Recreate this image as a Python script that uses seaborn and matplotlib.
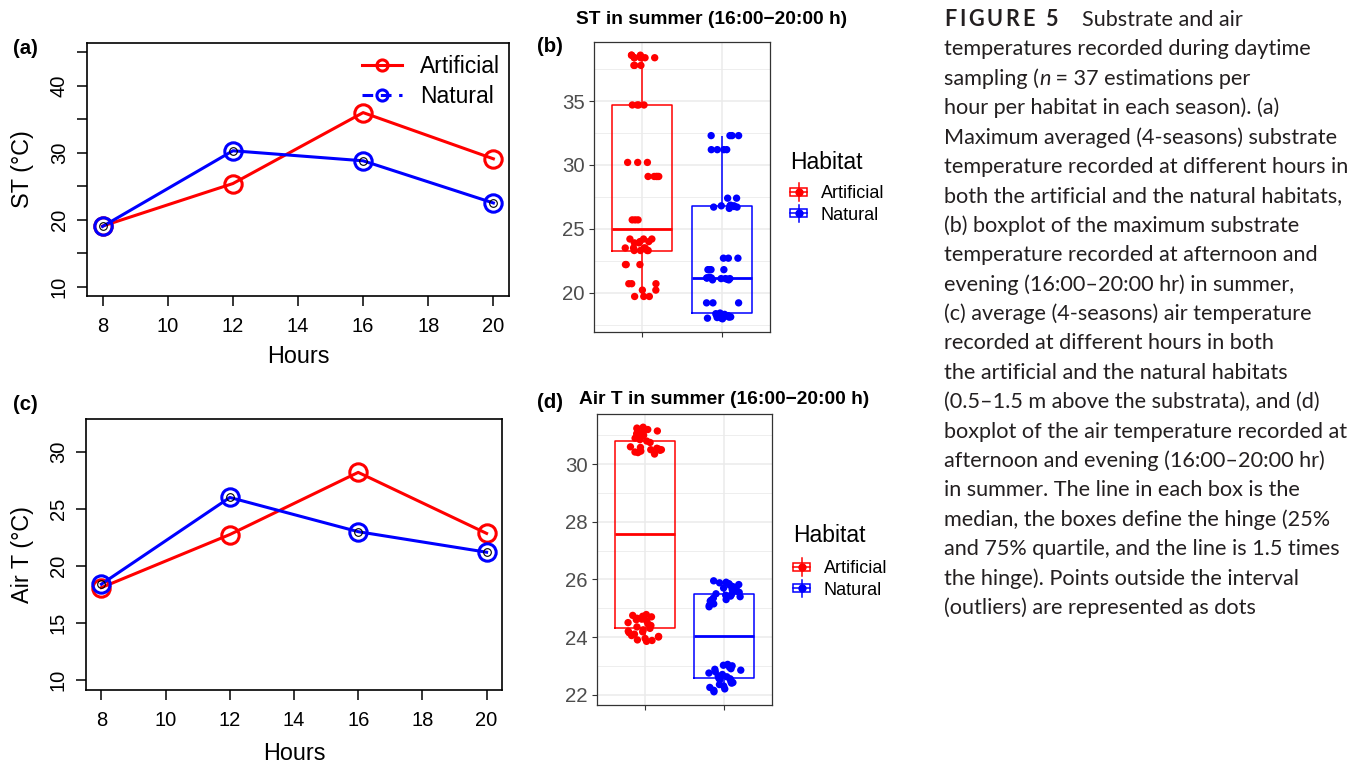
import numpy as np
import pandas as pd
import matplotlib
matplotlib.use("Agg")
import matplotlib.pyplot as plt
import seaborn as sns
from matplotlib.legend_handler import HandlerBase
from matplotlib.patches import Rectangle
from matplotlib.lines import Line2D
from matplotlib.ticker import AutoMinorLocator, NullLocator

# ---------------- data ----------------
hours = [8, 12, 16, 20]
st_artificial = [19.05, 25.4, 36.0, 29.1]
st_natural = [19.0, 30.3, 28.8, 22.5]
air_artificial = [18.1, 22.75, 28.2, 22.85]
air_natural = [18.4, 26.0, 23.0, 21.2]

habitats = ["Artificial", "Natural"]

st_summer_artificial = [19.7, 19.7, 19.7, 20.2, 20.2, 20.7, 20.7, 20.7, 22.2, 22.2, 22.2,
                        23.3, 23.3, 23.3, 23.3, 23.5, 23.5, 23.5, 23.5, 23.9, 23.9,
                        24.0, 24.0, 24.2, 24.2, 24.2,
                        25.7, 25.7, 25.7, 29.1, 29.1, 29.1, 29.1, 29.1, 30.2, 30.2, 30.2,
                        34.7, 34.7, 34.7, 34.7, 37.8, 37.8, 37.8,
                        38.4, 38.4, 38.4, 38.4, 38.4, 38.6, 38.6, 38.6]
st_summer_natural = [17.95, 18.0, 18.0, 18.05, 18.1, 18.1, 18.1, 18.15, 18.2, 18.2, 18.25,
                     18.3, 18.35, 18.4, 19.2, 19.2, 19.2,
                     21.0, 21.0, 21.05, 21.1, 21.1, 21.1, 21.15, 21.15, 21.15, 21.2,
                     21.8, 21.8, 21.8, 21.8, 22.7, 22.7, 22.7,
                     26.6, 26.7, 26.7, 26.75, 26.8, 26.8, 26.8, 26.85, 27.4, 27.4,
                     31.2, 31.2, 31.2, 31.2, 32.3, 32.3, 32.3, 32.3]
air_summer_artificial = [23.85, 23.88, 23.9, 23.95, 24.0, 24.02, 24.05, 24.1, 24.15, 24.18,
                         24.2, 24.25, 24.3, 24.35, 24.4, 24.45, 24.5, 24.55, 24.6, 24.62,
                         24.65, 24.7, 24.72, 24.75, 24.78,
                         30.35, 30.4, 30.42, 30.45, 30.48, 30.5, 30.5, 30.52, 30.55, 30.58,
                         30.6, 30.75, 30.8, 30.85, 30.9, 30.95, 31.0, 31.05, 31.1, 31.12,
                         31.15, 31.2, 31.22, 31.25, 31.28]
air_summer_natural = [22.1, 22.15, 22.2, 22.25, 22.3, 22.35, 22.4, 22.42, 22.45, 22.5,
                      22.52, 22.55, 22.58, 22.62, 22.65, 22.7, 22.75, 22.8, 22.85, 22.88,
                      22.9, 22.95, 23.0, 23.02, 23.05,
                      25.05, 25.1, 25.15, 25.2, 25.25, 25.28, 25.3, 25.35, 25.4, 25.42,
                      25.45, 25.48, 25.5, 25.55, 25.6, 25.65, 25.7, 25.72, 25.75, 25.8,
                      25.82, 25.85, 25.88, 25.9, 25.95]

RED = "#FF0000"
BLUE = "#0000FF"
CAP = "#231F20"

plt.rcParams["font.family"] = ["Liberation Sans", "DejaVu Sans"]

W, H = 1364, 765
fig = plt.figure(figsize=(W / 100, H / 100), dpi=100)


def ax_px(l, t, r, b):
    return fig.add_axes([l / W, 1 - b / H, (r - l) / W, (b - t) / H])


axA = ax_px(87, 43, 509, 296)
axC = ax_px(86, 419, 502, 690)
axB = ax_px(594, 42, 770, 332)
axD = ax_px(597, 414, 772, 705)


# ---------------- base-R style line panels ----------------
def r_panel(ax, art, nat, ylim, yticks, ylabels, ylabel, hpx, xlab_off):
    sns.lineplot(x=hours, y=art, ax=ax, color=RED, lw=2.2, marker="o", markersize=12.5,
                 markerfacecolor="none", markeredgecolor=RED, markeredgewidth=2.2, zorder=3)
    sns.lineplot(x=hours, y=nat, ax=ax, color=BLUE, lw=2.2, marker="o", markersize=12.5,
                 markerfacecolor="none", markeredgecolor=BLUE, markeredgewidth=2.2, zorder=4)
    sns.lineplot(x=hours, y=nat, ax=ax, color="black", linestyle="", marker="o", markersize=5.5,
                 markerfacecolor="none", markeredgecolor="black", markeredgewidth=0.8, zorder=5)
    ax.set_xlim(7.52, 20.48)
    ax.set_ylim(*ylim)
    ax.set_xticks([8, 10, 12, 14, 16, 18, 20])
    ax.set_yticks(yticks)
    ax.set_yticklabels(ylabels)
    for s in ax.spines.values():
        s.set_linewidth(1.2)
        s.set_color("black")
    ax.tick_params(axis="both", length=7, width=1.1, labelsize=14.5, colors="black")
    ax.tick_params(axis="x", pad=8)
    ax.tick_params(axis="y", labelrotation=90, pad=6)
    for lab in ax.get_yticklabels():
        lab.set_va("center")
    ax.set_xlabel("Hours", fontsize=16.8)
    ax.set_ylabel(ylabel, fontsize=16.8)
    ax.xaxis.label.set_va("center")
    ax.yaxis.label.set_va("center")
    ax.xaxis.set_label_coords(0.5, -xlab_off / hpx)
    ax.yaxis.set_label_coords(-64 / 422, 0.5)
    ax.set_facecolor("white")


r_panel(axA, st_artificial, st_natural, (8.6, 46.4), [10, 15, 20, 25, 30, 35, 40, 45],
        ["10", "", "20", "", "30", "", "40", ""], "ST (°C)", 253, 61)
r_panel(axC, air_artificial, air_natural, (9.12, 32.88), [10, 15, 20, 25, 30],
        ["10", "15", "20", "25", "30"], "Air T (°C)", 271, 63)

legA = [Line2D([], [], color=RED, lw=2.2, marker="o", markersize=8, markerfacecolor="none",
               markeredgewidth=2.2),
        Line2D([], [], color=BLUE, lw=2.2, linestyle=(0, (3.5, 2.5)), marker="o", markersize=8,
               markerfacecolor="none", markeredgewidth=2.2)]
axA.legend(legA, habitats, loc="upper left", bbox_to_anchor=(362 / W, 1 - 55 / H),
           bbox_transform=fig.transFigure, frameon=False, fontsize=16.5, handlelength=1.75,
           handletextpad=0.8, borderpad=0, borderaxespad=0, labelspacing=0.3)

fig.text(13 / W, 1 - 48 / H, "(a)", fontsize=14.7, fontweight="bold", va="center", ha="left")
fig.text(13 / W, 1 - 405 / H, "(c)", fontsize=14.7, fontweight="bold", va="center", ha="left")


# ---------------- ggplot style box panels ----------------
class BoxKey(HandlerBase):
    def create_artists(self, legend, orig_handle, xdescent, ydescent, width, height,
                       fontsize, trans):
        c = orig_handle.get_color()
        x0, y0 = -xdescent, -ydescent
        w, h = width, height
        arts = [
            Rectangle((x0, y0 + 0.25 * h), w, 0.5 * h, facecolor="white", edgecolor=c,
                      lw=1.1, transform=trans),
            Line2D([x0, x0 + w], [y0 + 0.5 * h] * 2, color=c, lw=1.1, transform=trans),
            Line2D([x0 + w / 2] * 2, [y0 - 0.05 * h, y0 + 0.25 * h], color=c, lw=1.1,
                   transform=trans),
            Line2D([x0 + w / 2] * 2, [y0 + 0.75 * h, y0 + 1.05 * h], color=c, lw=1.1,
                   transform=trans),
            Line2D([x0 + w / 2], [y0 + 0.5 * h], marker="o", markersize=5, color=c,
                   linestyle="", transform=trans),
        ]
        return arts


def gg_panel(ax, art, nat, title, tag, title_x, title_y, tag_y, leg_x, leg_title_y, leg_y):
    df = pd.DataFrame({"Habitat": ["Artificial"] * len(art) + ["Natural"] * len(nat),
                       "value": list(art) + list(nat)})
    pal = {"Artificial": RED, "Natural": BLUE}
    sns.boxplot(data=df, x="Habitat", y="value", hue="Habitat", palette=pal, fill=False,
                width=0.75, linewidth=1.1, saturation=1, showcaps=False, showfliers=False,
                medianprops=dict(linewidth=2.0), legend=False, ax=ax, zorder=3)
    np.random.seed(3)
    sns.stripplot(data=df, x="Habitat", y="value", hue="Habitat", palette=pal, jitter=0.22,
                  size=5.3, linewidth=0, legend=False, ax=ax, zorder=4)
    lo, hi = min(df.value), max(df.value)
    rng = hi - lo
    ax.set_ylim(lo - 0.05 * rng, hi + 0.05 * rng)
    ax.set_xlim(-0.6, 1.6)
    ax.set_xlabel("")
    ax.set_ylabel("")
    ax.set_xticklabels([])
    ax.set_facecolor("white")
    ax.minorticks_on()
    ax.xaxis.set_minor_locator(NullLocator())
    ax.yaxis.set_minor_locator(AutoMinorLocator(2))
    ax.grid(True, which="major", color="#EBEBEB", lw=1.1, zorder=0)
    ax.grid(True, which="minor", axis="y", color="#EBEBEB", lw=0.6, zorder=0)
    ax.set_axisbelow(True)
    for s in ax.spines.values():
        s.set_linewidth(0.9)
        s.set_color("#333333")
    ax.tick_params(axis="both", which="major", length=3.5, width=0.8, color="#333333",
                   labelsize=14.7, labelcolor="#4D4D4D", pad=3)
    ax.tick_params(axis="y", which="minor", length=0)
    fig.text(title_x / W, 1 - title_y / H, title, fontsize=13.8, fontweight="bold",
             va="center", ha="left")
    fig.text(537 / W, 1 - tag_y / H, tag, fontsize=14.7, fontweight="bold",
             va="center", ha="left")
    fig.text(leg_x / W, 1 - leg_title_y / H, "Habitat", fontsize=16.5, va="center",
             ha="left")
    handles = [Line2D([], [], color=RED), Line2D([], [], color=BLUE)]
    ax.legend(handles, habitats, handler_map={Line2D: BoxKey()},
              fontsize=13, loc="upper left",
              bbox_to_anchor=(leg_x / W, 1 - leg_y / H), bbox_transform=fig.transFigure,
              frameon=False, handlelength=0.95, handleheight=1.0,
              handletextpad=0.75, labelspacing=0.17, borderpad=0, borderaxespad=0)


gg_panel(axB, st_summer_artificial, st_summer_natural, "ST in summer (16:00\u221220:00 h)",
         "(b)", 576, 19, 46, 790, 162.7, 184)
gg_panel(axD, air_summer_artificial, air_summer_natural,
         "Air T in summer (16:00\u221220:00 h)", "(d)", 579, 400, 403, 793, 535, 559)

# ---------------- caption ----------------
r = fig.canvas.get_renderer()
CF = ["Lato", "DejaVu Sans"]


def text_w(s, size, **kw):
    t = fig.text(0, 0, s, fontsize=size, family=CF, **kw)
    w = t.get_window_extent(renderer=r).width
    t.remove()
    return w


base = 14.0
cap_size = base * 406 / text_w("temperature recorded at different hours in", base)

lines = [
    None,
    [("temperatures recorded during daytime", {})],
    [("sampling (", {}), ("n", {"style": "italic"}), (" = 37 estimations per", {})],
    [("hour per habitat in each season). (a)", {})],
    [("Maximum averaged (4-seasons) substrate", {})],
    [("temperature recorded at different hours in", {})],
    [("both the artificial and the natural habitats,", {})],
    [("(b) boxplot of the maximum substrate", {})],
    [("temperature recorded at afternoon and", {})],
    [("evening (16:00\u201320:00 hr) in summer,", {})],
    [("(c) average (4-seasons) air temperature", {})],
    [("recorded at different hours in both", {})],
    [("the artificial and the natural habitats", {})],
    [("(0.5\u20131.5 m above the substrata), and (d)", {})],
    [("boxplot of the air temperature recorded at", {})],
    [("afternoon and evening (16:00\u201320:00 hr)", {})],
    [("in summer. The line in each box is the", {})],
    [("median, the boxes define the hinge (25%", {})],
    [("and 75% quartile, and the line is 1.5 times", {})],
    [("the hinge). Points outside the interval", {})],
    [("(outliers) are represented as dots", {})],
]

x0 = 944
for i, segs in enumerate(lines):
    yb = 26 + i * 29.4
    if segs is None:
        word = "FIGURE 5"
        sp_w = text_w("A A", cap_size, fontweight="bold") - text_w("AA", cap_size, fontweight="bold")
        widths = [sp_w if ch == " " else text_w(ch, cap_size, fontweight="bold") for ch in word]
        extra = (114 - sum(widths)) / (len(word) - 1)
        x = x0
        for ch, cw in zip(word, widths):
            if ch != " ":
                fig.text(x / W, 1 - yb / H, ch, fontsize=cap_size, family=CF,
                         fontweight="bold", color=CAP, va="baseline", ha="left")
            x += cw + extra
        fig.text(1081.5 / W, 1 - yb / H, "Substrate and air", fontsize=cap_size, family=CF,
                 color=CAP, va="baseline", ha="left")
        continue
    x = x0
    for s, kw in segs:
        t = fig.text(x / W, 1 - yb / H, s, fontsize=cap_size, family=CF, color=CAP,
                     va="baseline", ha="left", **kw)
        x += t.get_window_extent(renderer=r).width

fig.savefig("out.png", dpi=100, facecolor="white")
